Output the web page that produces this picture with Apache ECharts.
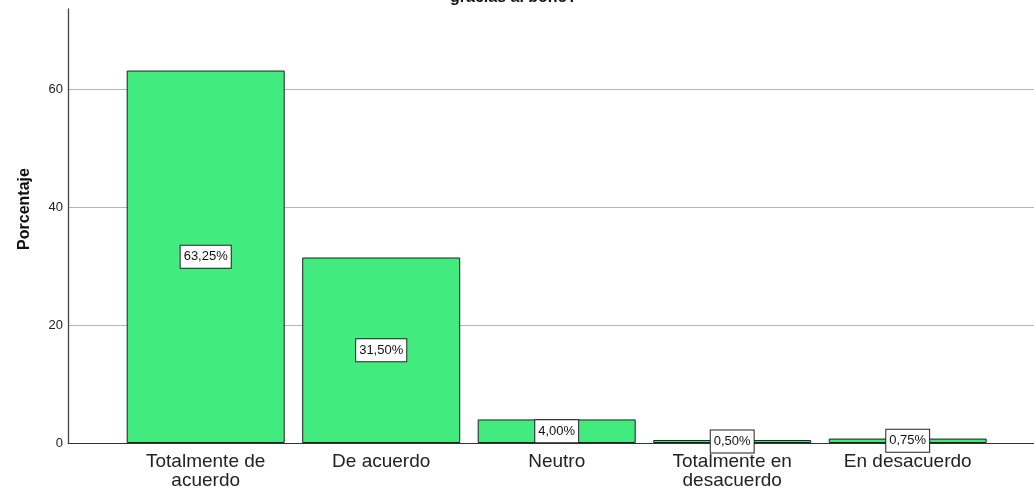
<!DOCTYPE html>
<html>
<head>
<meta charset="utf-8">
<script src="https://cdn.jsdelivr.net/npm/echarts@6/dist/echarts.min.js"></script>
<style>
html,body{margin:0;padding:0;background:#fff;}
#c{width:1034px;height:493px;}
</style>
</head>
<body>
<div id="c"></div>
<script>
var categories = ['Totalmente de\nacuerdo', 'De acuerdo', 'Neutro', 'Totalmente en\ndesacuerdo', 'En desacuerdo'];
var values = [63.25, 31.50, 4.00, 0.50, 0.75];
var yTicks = [0, 20, 40, 60];
var titleText = 'gracias al bono?';
var yName = 'Porcentaje';

var FONT = '"Liberation Sans", Arial, sans-serif';
var Y_MAX = 73.7;
var chart = echarts.init(document.getElementById('c'), null, {renderer: 'canvas'});
chart.setOption({
  animation: false,
  backgroundColor: '#ffffff',
  title: {
    text: titleText,
    left: 445,
    top: -15,
    textStyle: {fontFamily: FONT, fontSize: 16, fontWeight: 'bold', color: '#111'}
  },
  grid: [
    {left: 117.95, right: 38.55, top: 9, bottom: 50},
    {left: 68, right: 0, top: 9, bottom: 50}
  ],
  xAxis: [
    {
      type: 'category', gridIndex: 0, data: categories,
      axisLine: {show: false}, axisTick: {show: false},
      axisLabel: {fontFamily: FONT, fontSize: 19, lineHeight: 19, color: '#222', margin: 9, interval: 0}
    },
    {
      type: 'value', gridIndex: 1, min: 0, max: 1,
      axisLine: {show: true, lineStyle: {color: '#333', width: 1}},
      axisTick: {show: false}, axisLabel: {show: false}, splitLine: {show: false}
    }
  ],
  yAxis: [
    {type: 'value', gridIndex: 0, min: 0, max: Y_MAX, show: false, splitLine: {show: false}},
    {
      type: 'value', gridIndex: 1, min: 0, max: Y_MAX, interval: 20,
      name: yName, nameLocation: 'middle', nameGap: 35,
      nameTextStyle: {fontFamily: FONT, fontSize: 16, fontWeight: 'bold', color: '#111', padding: [0, 0, 0, 34]},
      axisLine: {show: true, lineStyle: {color: '#444', width: 1.3}},
      axisTick: {show: false},
      axisLabel: {
        fontFamily: FONT, fontSize: 13, color: '#222', margin: 5, showMaxLabel: false,
        formatter: function (v) { return yTicks.indexOf(v) >= 0 ? String(v) : ''; }
      },
      splitLine: {show: true, showMinLine: false, showMaxLine: false, lineStyle: {color: '#b4b4b4', width: 1}}
    }
  ],
  series: [{
    type: 'bar',
    xAxisIndex: 0, yAxisIndex: 0,
    data: values,
    barWidth: 158,
    itemStyle: {color: '#42EB7E', borderColor: '#1e1e1e', borderWidth: 1},
    label: {
      show: true, position: 'inside',
      formatter: function (p) { return p.value.toFixed(2).replace('.', ',') + '%'; },
      fontFamily: FONT, fontSize: 13, lineHeight: 14, color: '#111',
      backgroundColor: '#ffffff', borderColor: '#222', borderWidth: 1,
      padding: [5, 3, 3, 3]
    }
  }]
});
</script>
</body>
</html>
